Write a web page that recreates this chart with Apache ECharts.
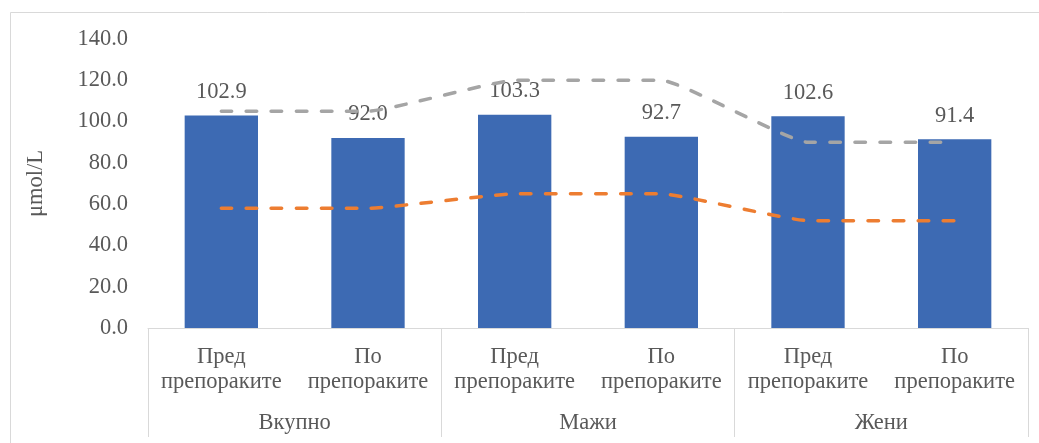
<!DOCTYPE html>
<html>
<head>
<meta charset="utf-8">
<script src="https://cdn.jsdelivr.net/npm/echarts@6/dist/echarts.min.js"></script>
<style>
  html, body { margin: 0; padding: 0; background: #fff; }
  #chart { width: 1039px; height: 443px; }
</style>
</head>
<body>
<div id="chart"></div>
<script>
// Sub-categories (inner axis level) and groups (outer axis level)
const subCategories = ['Пред\nпрепораките', 'По\nпрепораките', 'Пред\nпрепораките', 'По\nпрепораките', 'Пред\nпрепораките', 'По\nпрепораките'];
const groups = ['Вкупно', 'Мажи', 'Жени'];

// Mean values (µmol/L)
const meanValues = [102.9, 92.0, 103.3, 92.7, 102.6, 91.4];
// Reference limits per group (upper and lower)
const upperLimit = [105, 105, 120, 120, 90, 90];
const lowerLimit = [58, 58, 65, 65, 52, 52];

const yTicks = { min: 0, max: 140, interval: 20 };

const FONT = '"Liberation Serif", "Times New Roman", serif';
const TEXT = '#595959';
const GRIDLINE = '#d9d9d9';
const FS = 22.5;

const chart = echarts.init(document.getElementById('chart'), null, { renderer: 'canvas' });

const dashed = color => ({ color, width: 3.5, type: [10.5, 14.5], cap: 'round' });

chart.setOption({
  animation: false,
  backgroundColor: '#fff',
  grid: { left: 148, right: 11, top: 39, bottom: 115, containLabel: false },
  graphic: [{
    type: 'rect',
    shape: { x: 10.5, y: 12.5, width: 1040, height: 440 },
    style: { fill: 'none', stroke: GRIDLINE, lineWidth: 1 },
    silent: true,
    z: -1
  }],
  xAxis: [{
    type: 'category',
    data: subCategories,
    position: 'bottom',
    axisLine: { show: true, lineStyle: { color: GRIDLINE, width: 1 } },
    axisTick: { show: false },
    axisLabel: {
      interval: 0,
      margin: 17,
      color: TEXT,
      fontFamily: FONT,
      fontSize: FS,
      lineHeight: 25
    }
  }, {
    type: 'category',
    data: groups,
    position: 'bottom',
    axisLine: { show: false },
    axisTick: { show: true, length: 109, lineStyle: { color: GRIDLINE, width: 1 } },
    axisLabel: {
      interval: 0,
      margin: 83,
      color: TEXT,
      fontFamily: FONT,
      fontSize: FS,
      lineHeight: 25
    }
  }],
  yAxis: {
    type: 'value',
    min: yTicks.min,
    max: yTicks.max,
    interval: yTicks.interval,
    name: 'μmol/L',
    nameLocation: 'middle',
    nameGap: 100,
    nameRotate: 90,
    nameTextStyle: { color: TEXT, fontFamily: FONT, fontSize: FS },
    axisLine: { show: false },
    axisTick: { show: false },
    splitLine: { show: false },
    axisLabel: {
      color: TEXT,
      fontFamily: FONT,
      fontSize: FS,
      margin: 20,
      formatter: v => v.toFixed(1)
    }
  },
  series: [{
    name: 'Просек',
    type: 'bar',
    data: meanValues,
    barWidth: '50%',
    itemStyle: { color: '#3d6ab3' },
    label: {
      show: true,
      position: 'top',
      distance: 12,
      color: TEXT,
      fontFamily: FONT,
      fontSize: FS,
      formatter: p => p.value.toFixed(1)
    },
    z: 2
  }, {
    name: 'Горна граница',
    type: 'line',
    data: upperLimit,
    smooth: 0.12,
    symbol: 'none',
    lineStyle: dashed('#a5a5a5'),
    z: 3
  }, {
    name: 'Долна граница',
    type: 'line',
    data: lowerLimit,
    smooth: 0.12,
    symbol: 'none',
    lineStyle: dashed('#ed7d31'),
    z: 3
  }]
});
</script>
</body>
</html>
